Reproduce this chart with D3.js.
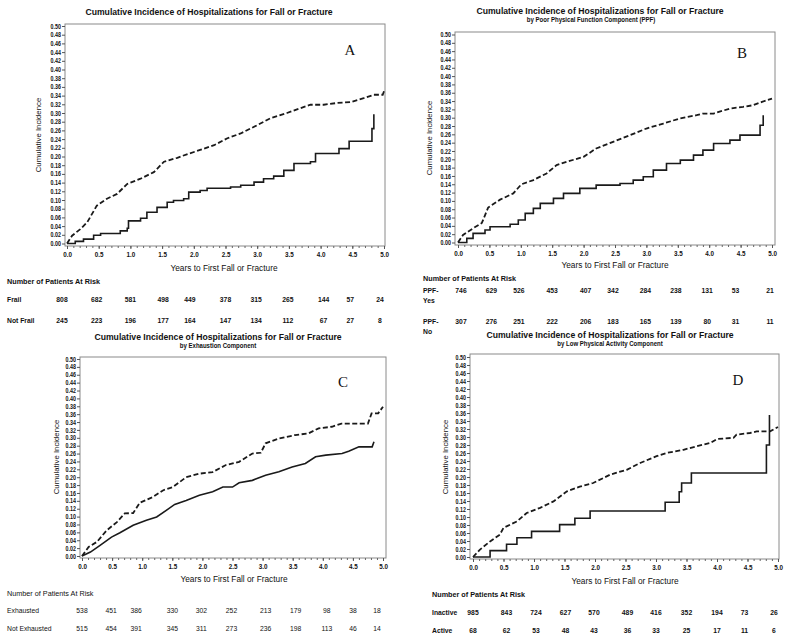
<!DOCTYPE html>
<html>
<head>
<meta charset="utf-8">
<style>
  body { margin: 0; background: #fff; }
  text { font-family: "Liberation Sans", Arial, sans-serif; fill: #111; }
</style>
</head>
<body>
<script src="https://cdn.jsdelivr.net/npm/d3@7"></script>
<script>
  // ticks
  const yTickValues = [0.00, 0.02, 0.04, 0.06, 0.08, 0.10, 0.12, 0.14, 0.16, 0.18, 0.20, 0.22, 0.24,
    0.26, 0.28, 0.30, 0.32, 0.34, 0.36, 0.38, 0.40, 0.42, 0.44, 0.46, 0.48, 0.50]
  const xTickValues = [0, 0.5, 1.0, 1.5, 2.0, 2.5, 3.0, 3.5, 4.0, 4.5, 5.0]
  const riskTimes = [0, 0.5, 1.0, 1.5, 2.0, 2.5, 3.0, 3.5, 4.0, 4.5, 5.0]

  // A: frailty
  const frailT = [0, 0.08, 0.21, 0.32, 0.47, 0.63, 0.79, 0.95, 1.16, 1.37, 1.53, 1.74, 1.89, 2.10, 2.32, 2.53, 2.74, 3.00, 3.21, 3.47, 3.68, 3.84, 4.05, 4.26, 4.47, 4.68, 4.84, 4.98, 5.0]
  const frailV = [0, 0.018, 0.033, 0.049, 0.087, 0.103, 0.114, 0.137, 0.149, 0.164, 0.188, 0.197, 0.205, 0.215, 0.226, 0.242, 0.253, 0.272, 0.288, 0.300, 0.311, 0.319, 0.319, 0.323, 0.325, 0.334, 0.342, 0.342, 0.35]
  const notFrailT = [0, 0.13, 0.26, 0.42, 0.53, 0.84, 0.95, 0.97, 1.16, 1.26, 1.42, 1.58, 1.68, 1.84, 1.92, 2.10, 2.21, 2.58, 2.74, 2.95, 3.10, 3.26, 3.42, 3.58, 3.84, 3.92, 4.29, 4.45, 4.81, 4.84]
  const notFrailV = [0, 0.005, 0.010, 0.019, 0.023, 0.029, 0.035, 0.052, 0.058, 0.072, 0.083, 0.095, 0.099, 0.103, 0.118, 0.122, 0.127, 0.130, 0.134, 0.141, 0.149, 0.155, 0.168, 0.184, 0.188, 0.207, 0.218, 0.235, 0.264, 0.297]
  const frailRisk = [808, 682, 581, 498, 449, 378, 315, 265, 144, 57, 24]
  const notFrailRisk = [245, 223, 196, 177, 164, 147, 134, 112, 67, 27, 8]

  // B: poor physical function
  const ppfYesT = [0, 0.08, 0.24, 0.38, 0.48, 0.67, 0.88, 1.01, 1.20, 1.41, 1.57, 1.73, 2.00, 2.20, 2.47, 2.74, 3.00, 3.27, 3.53, 3.80, 3.90, 4.07, 4.33, 4.54, 4.70, 4.84, 5.00]
  const ppfYesV = [0, 0.018, 0.034, 0.047, 0.084, 0.103, 0.118, 0.140, 0.150, 0.166, 0.186, 0.194, 0.206, 0.226, 0.242, 0.258, 0.274, 0.286, 0.298, 0.306, 0.310, 0.310, 0.322, 0.326, 0.330, 0.338, 0.346]
  const ppfNoT = [0, 0.14, 0.24, 0.43, 0.51, 0.83, 0.96, 1.07, 1.20, 1.31, 1.52, 1.68, 1.94, 2.20, 2.58, 2.79, 2.95, 3.11, 3.32, 3.54, 3.75, 3.90, 4.07, 4.33, 4.49, 4.81, 4.86]
  const ppfNoV = [0, 0.010, 0.022, 0.030, 0.038, 0.044, 0.054, 0.070, 0.082, 0.094, 0.106, 0.118, 0.130, 0.138, 0.142, 0.150, 0.158, 0.174, 0.190, 0.198, 0.210, 0.222, 0.238, 0.246, 0.258, 0.282, 0.306]
  const ppfYesRisk = [746, 629, 526, 453, 407, 342, 284, 238, 131, 53, 21]
  const ppfNoRisk = [307, 276, 251, 222, 206, 183, 165, 139, 80, 31, 11]

  // C: exhaustion
  const exhaustedT = [0, 0.11, 0.25, 0.41, 0.58, 0.71, 0.85, 0.96, 1.18, 1.35, 1.51, 1.73, 1.95, 2.17, 2.39, 2.61, 2.83, 2.97, 3.05, 3.27, 3.54, 3.76, 3.93, 4.15, 4.31, 4.75, 4.81, 4.92, 5.00]
  const exhaustedV = [0, 0.023, 0.036, 0.065, 0.086, 0.108, 0.109, 0.135, 0.150, 0.167, 0.175, 0.200, 0.209, 0.213, 0.231, 0.239, 0.260, 0.262, 0.286, 0.298, 0.307, 0.311, 0.324, 0.328, 0.336, 0.336, 0.362, 0.362, 0.379]
  const notExhaustedT = [0, 0.14, 0.30, 0.49, 0.63, 0.85, 1.07, 1.24, 1.40, 1.54, 1.73, 1.95, 2.17, 2.34, 2.50, 2.61, 2.83, 3.05, 3.27, 3.49, 3.71, 3.88, 4.05, 4.32, 4.43, 4.60, 4.82, 4.85]
  const notExhaustedV = [0, 0.010, 0.027, 0.048, 0.059, 0.078, 0.091, 0.099, 0.116, 0.131, 0.141, 0.154, 0.163, 0.175, 0.175, 0.186, 0.192, 0.205, 0.214, 0.226, 0.235, 0.252, 0.256, 0.260, 0.266, 0.277, 0.277, 0.290]
  const exhaustedRisk = [538, 451, 386, 330, 302, 252, 213, 179, 98, 38, 18]
  const notExhaustedRisk = [515, 454, 391, 345, 311, 273, 236, 198, 113, 46, 14]

  // D: low physical activity
  const inactiveT = [0, 0.11, 0.28, 0.44, 0.50, 0.72, 0.88, 1.10, 1.32, 1.54, 1.75, 1.97, 2.25, 2.52, 2.74, 3.01, 3.17, 3.45, 3.67, 3.89, 4.00, 4.27, 4.32, 4.54, 4.65, 4.87, 5.00]
  const inactiveV = [0, 0.018, 0.039, 0.056, 0.073, 0.089, 0.110, 0.123, 0.139, 0.164, 0.176, 0.185, 0.206, 0.218, 0.235, 0.252, 0.260, 0.268, 0.277, 0.285, 0.295, 0.298, 0.306, 0.310, 0.314, 0.314, 0.325]
  const activeT = [0, 0.28, 0.55, 0.72, 0.96, 1.42, 1.67, 1.92, 3.15, 3.38, 3.42, 3.58, 4.81, 4.86]
  const activeV = [0, 0.016, 0.032, 0.048, 0.064, 0.081, 0.097, 0.115, 0.137, 0.163, 0.185, 0.210, 0.280, 0.355]
  const inactiveRisk = [985, 843, 724, 627, 570, 489, 416, 352, 194, 73, 26]
  const activeRisk = [68, 62, 53, 48, 43, 36, 33, 25, 17, 11, 6]

  const mainTitle = 'Cumulative Incidence of Hospitalizations for Fall or Fracture'
  const SX = 0.93 // the original figure is a little squeezed sideways

  const svg = d3.select('body').append('svg')
    .attr('width', 800).attr('height', 641)

  function txt(g, x, y, s, o = {}) {
    return g.append('text')
      .attr('transform', `translate(${x},${y}) scale(${o.sx ?? SX},1)`)
      .attr('text-anchor', o.anchor || 'start')
      .attr('font-size', o.size || 7)
      .attr('font-weight', o.weight || 'normal')
      .text(s)
  }

  function zip(t, v) { return t.map((d, i) => [d, v[i]]) }

  function drawPanel(p) {
    const g = svg.append('g')
    const x = d3.scaleLinear().domain([0, 5]).range([p.x0, p.x1])
    const y = d3.scaleLinear().domain([0, 0.5]).range([p.y0, p.y50])

    // frame
    g.append('rect')
      .attr('x', p.frame[0]).attr('y', p.frame[1])
      .attr('width', p.frame[2] - p.frame[0]).attr('height', p.frame[3] - p.frame[1])
      .attr('fill', 'none').attr('stroke', '#8a8a8a').attr('stroke-width', 1)

    // y axis
    const ya = g.append('g').attr('transform', `translate(${p.frame[0]},0)`)
      .call(d3.axisLeft(y).tickValues(yTickValues).tickFormat(d3.format('.2f')).tickSize(3).tickPadding(2))
    ya.select('.domain').remove()
    ya.selectAll('text').attr('font-size', 6.5).attr('font-weight', 'bold')
      .attr('font-family', '"Liberation Sans", Arial, sans-serif')
      .attr('transform', 'scale(0.82,1)')
    ya.selectAll('line').attr('stroke', '#555')

    // x axis: minor ticks then major
    const xm = g.append('g').attr('transform', `translate(0,${p.frame[3]})`)
      .call(d3.axisBottom(x).tickValues(d3.range(0, 5.001, 0.1)).tickFormat('').tickSize(2))
    xm.select('.domain').remove()
    xm.selectAll('line').attr('stroke', '#666')
    const xa = g.append('g').attr('transform', `translate(0,${p.frame[3]})`)
      .call(d3.axisBottom(x).tickValues(xTickValues).tickFormat(d3.format('.1f')).tickSize(3))
    xa.select('.domain').remove()
    xa.selectAll('line').attr('stroke', '#555')
    xa.selectAll('text').attr('font-size', 7).attr('font-weight', 'bold')
      .attr('font-family', '"Liberation Sans", Arial, sans-serif')
      .attr('dy', null).attr('y', 11.5)
      .attr('transform', 'scale(0.9,1)')

    // curves
    const line = d3.line().x(d => x(d[0])).y(d => y(d[1]))
    g.append('path')
      .attr('d', line.curve(d3.curveLinear)(zip(p.dashT, p.dashV)))
      .attr('fill', 'none').attr('stroke', '#1a1a1a').attr('stroke-width', 1.8)
      .attr('stroke-dasharray', '5,2.5')
    g.append('path')
      .attr('d', line.curve(p.solidCurve)(zip(p.solidT, p.solidV)))
      .attr('fill', 'none').attr('stroke', '#1a1a1a').attr('stroke-width', 1.6)

    // titles
    txt(g, p.titleX, p.titleY, mainTitle, { anchor: 'middle', size: 9.3, weight: 'bold' })
    if (p.sub) txt(g, p.subX, p.subY, p.sub, { anchor: 'middle', size: 6.5, weight: 'bold' })
    g.append('text')
      .attr('transform', `translate(${p.yTitleX},${p.yTitleY}) rotate(-90)`)
      .attr('text-anchor', 'middle').attr('font-size', 7.8).text('Cumulative Incidence')
    txt(g, p.xTitleX, p.xTitleY, 'Years to First Fall or Fracture', { anchor: 'middle', size: 8.3, sx: 1 })

    // panel letter
    g.append('text').attr('x', p.letterX).attr('y', p.letterY)
      .attr('text-anchor', 'middle').attr('font-size', 15)
      .style('font-family', '"Liberation Serif", "Times New Roman", serif')
      .text(p.letter)

    // number at risk
    const w = p.riskBold ? 'bold' : 'normal'
    txt(g, p.riskX, p.riskY, 'Number of Patients At Risk', { size: 7.8, weight: w })
    p.rows.forEach(r => {
      r.label.forEach((l, k) => txt(g, p.riskX, r.y + k * 9.5, l, { size: 7.3, weight: w }))
      r.values.forEach((n, i) => {
        txt(g, x(riskTimes[i]) + p.riskShift[i], r.y, n, { anchor: 'middle', size: 7.3, weight: w })
      })
    })
  }

  drawPanel({
    x0: 67, x1: 384, y0: 243.5, y50: 26, frame: [65, 24, 385, 246],
    dashT: frailT, dashV: frailV, solidT: notFrailT, solidV: notFrailV, solidCurve: d3.curveStepAfter,
    titleX: 209, titleY: 15, yTitleX: 41, yTitleY: 135, xTitleX: 224, xTitleY: 271,
    letter: 'A', letterX: 350, letterY: 55,
    riskX: 7, riskY: 284, riskBold: true,
    riskShift: [-5, -2, 0, 1, -4, 0, -1, -1, 3, -2, -4],
    rows: [{ label: ['Frail'], values: frailRisk, y: 302 }, { label: ['Not Frail'], values: notFrailRisk, y: 323 }]
  })

  drawPanel({
    x0: 458, x1: 772, y0: 242.5, y50: 34.5, frame: [455, 32, 775, 245],
    dashT: ppfYesT, dashV: ppfYesV, solidT: ppfNoT, solidV: ppfNoV, solidCurve: d3.curveStepAfter,
    titleX: 600, titleY: 14, sub: 'by Poor Physical Function Component  (PPF)', subX: 591, subY: 22,
    yTitleX: 432, yTitleY: 138, xTitleX: 615, xTitleY: 268,
    letter: 'B', letterX: 742, letterY: 58,
    riskX: 423, riskY: 281, riskBold: true,
    riskShift: [3, 2, -2, 0, 2, -2, -1, -2, -2, -5, -2],
    rows: [{ label: ['PPF-', 'Yes'], values: ppfYesRisk, y: 293 }, { label: ['PPF-', 'No'], values: ppfNoRisk, y: 324 }]
  })

  drawPanel({
    x0: 82, x1: 383, y0: 556, y50: 359, frame: [80, 357, 386, 558],
    dashT: exhaustedT, dashV: exhaustedV, solidT: notExhaustedT, solidV: notExhaustedV, solidCurve: d3.curveLinear,
    titleX: 218, titleY: 340, sub: 'by Exhaustion Component', subX: 218, subY: 347.5,
    yTitleX: 59, yTitleY: 457, xTitleX: 234, xTitleY: 582,
    letter: 'C', letterX: 343, letterY: 387,
    riskX: 7, riskY: 596, riskBold: false,
    riskShift: [0, -1, -6, 0, -1, -1, 3, 3, 4, 0, -6],
    rows: [{ label: ['Exhausted'], values: exhaustedRisk, y: 613 }, { label: ['Not Exhausted'], values: notExhaustedRisk, y: 631 }]
  })

  drawPanel({
    x0: 473, x1: 778, y0: 557, y50: 357, frame: [470, 354, 779, 559],
    dashT: inactiveT, dashV: inactiveV, solidT: activeT, solidV: activeV, solidCurve: d3.curveStepAfter,
    titleX: 610, titleY: 338, sub: 'by Low Physical Activity Component', subX: 610, subY: 346,
    yTitleX: 448, yTitleY: 457, xTitleX: 625, xTitleY: 584,
    letter: 'D', letterX: 738, letterY: 385,
    riskX: 432, riskY: 597, riskBold: true,
    riskShift: [0, 3, 2, 1, -1, 2, 0, 0, 0, -3, -4],
    rows: [{ label: ['Inactive'], values: inactiveRisk, y: 615 }, { label: ['Active'], values: activeRisk, y: 633 }]
  })
</script>
</body>
</html>
